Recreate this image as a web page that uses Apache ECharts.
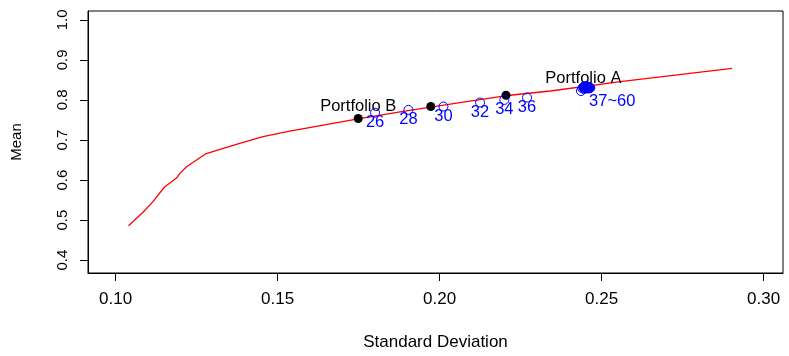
<!DOCTYPE html>
<html>
<head>
<meta charset="utf-8">
<script src="https://cdn.jsdelivr.net/npm/echarts@6/dist/echarts.min.js"></script>
<style>
html,body{margin:0;padding:0;background:#fff;}
#chart{width:789px;height:356px;}
</style>
</head>
<body>
<div id="chart"></div>
<script>
// Efficient frontier (red line)
var frontierX = [0.1040, 0.1084, 0.1115, 0.1151, 0.1172, 0.1188, 0.1200, 0.1219, 0.1280, 0.1383, 0.1455, 0.1538, 0.1744, 0.1878, 0.2063, 0.2202, 0.2342, 0.2558, 0.2903];
var frontierY = [0.4860, 0.5190, 0.5455, 0.5827, 0.5951, 0.6050, 0.6180, 0.6331, 0.6661, 0.6918, 0.7085, 0.7220, 0.7521, 0.7702, 0.7935, 0.8104, 0.8223, 0.8456, 0.8786];

// Black portfolios
var blackX = [0.1749, 0.1973, 0.2205, 0.2444];
var blackY = [0.7538, 0.7836, 0.8116, 0.8314];
var blackLabels = ["Portfolio B", "", "", "Portfolio A"];

// Numbered blue open circles
var numX = [0.1801, 0.1904, 0.2012, 0.2125, 0.2200, 0.2270];
var numY = [0.7682, 0.7752, 0.7836, 0.7935, 0.8000, 0.8059];
var numLabels = ["26", "28", "30", "32", "34", "36"];

// Cluster 37~60
var clusterX = [0.24365, 0.24405, 0.24436, 0.24451, 0.24467, 0.24482, 0.24498, 0.24513, 0.24529, 0.24544, 0.24560, 0.24575, 0.24591, 0.24606, 0.24621, 0.24637, 0.24652, 0.24498, 0.24529, 0.24560, 0.24591, 0.24467, 0.24621, 0.24529];
var clusterY = [0.8223, 0.8290, 0.8314, 0.8327, 0.8314, 0.8339, 0.8327, 0.8339, 0.8327, 0.8339, 0.8327, 0.8314, 0.8327, 0.8314, 0.8314, 0.8302, 0.8302, 0.8290, 0.8302, 0.8290, 0.8290, 0.8277, 0.8290, 0.8314];
var clusterLabel = "37~60";
var clusterLabelIndex = 23;

var xTicks = [0.10, 0.15, 0.20, 0.25, 0.30];
var yTicks = [0.4, 0.5, 0.6, 0.7, 0.8, 0.9, 1.0];

var FONT = '"Liberation Sans", Arial, Helvetica, sans-serif';

function zip(xs, ys) { return xs.map(function (x, i) { return [x, ys[i]]; }); }

var chart = echarts.init(document.getElementById('chart'), null, {renderer: 'canvas'});
chart.setOption({
  animation: false,
  backgroundColor: '#ffffff',
  textStyle: {fontFamily: FONT},
  grid: {left: 88, right: 6, top: 11, bottom: 81, show: true, borderColor: '#000', borderWidth: 1, backgroundColor: 'transparent'},
  xAxis: {
    type: 'value', min: 0.0915, max: 0.306,
    name: 'Standard Deviation', nameLocation: 'middle', nameGap: 61,
    nameTextStyle: {fontSize: 17, color: '#000', fontFamily: FONT},
    axisLine: {show: true, onZero: false, lineStyle: {color: '#000', width: 1}},
    axisTick: {show: true, length: 8, lineStyle: {color: '#000'}, customValues: xTicks},
    axisLabel: {fontSize: 17, color: '#000', margin: 18, fontFamily: FONT, customValues: xTicks,
      formatter: function (v) { return v.toFixed(2); }},
    splitLine: {show: false}
  },
  yAxis: {
    type: 'value', min: 0.368, max: 1.022,
    name: 'Mean', nameLocation: 'middle', nameGap: 64, nameRotate: 90,
    nameTextStyle: {fontSize: 15, color: '#000', fontFamily: FONT},
    axisLine: {show: true, onZero: false, lineStyle: {color: '#000', width: 1}},
    axisTick: {show: true, length: 8, lineStyle: {color: '#000'}, customValues: yTicks},
    axisLabel: {fontSize: 15, color: '#000', margin: 18, rotate: 90, fontFamily: FONT, customValues: yTicks,
      formatter: function (v) { return v.toFixed(1); }},
    splitLine: {show: false}
  },
  series: [
    {
      type: 'line', data: zip(frontierX, frontierY), showSymbol: false, symbol: 'none',
      lineStyle: {color: '#ff0000', width: 1.3}, z: 2, silent: true
    },
    {
      type: 'scatter', symbol: 'circle', symbolSize: 9, z: 3,
      itemStyle: {color: '#000', opacity: 1},
      data: zip(blackX, blackY).map(function (p, i) {
        return {value: p, label: {show: blackLabels[i] !== '', formatter: blackLabels[i], offset: [0, i === 3 ? -9 : -12]}};
      }),
      label: {position: 'inside', color: '#000', fontSize: 16.5, fontFamily: FONT}
    },
    {
      type: 'scatter', symbol: 'circle', symbolSize: 9, z: 4,
      itemStyle: {color: 'rgba(0,0,0,0)', borderColor: '#0000ff', borderWidth: 1, opacity: 1},
      data: zip(numX, numY).map(function (p, i) {
        return {value: p, label: {show: true, formatter: numLabels[i]}};
      }),
      label: {position: 'inside', offset: [0, 10], color: '#0000ff', fontSize: 16.5, fontFamily: FONT}
    },
    {
      type: 'scatter', symbol: 'circle', symbolSize: 9, z: 4,
      itemStyle: {color: 'rgba(0,0,0,0)', borderColor: '#0000ff', borderWidth: 1, opacity: 1},
      data: zip(clusterX, clusterY).map(function (p, i) {
        return {value: p, label: {show: i === clusterLabelIndex, formatter: clusterLabel}};
      }),
      label: {position: 'inside', offset: [26, 14], color: '#0000ff', fontSize: 16.5, fontFamily: FONT}
    }
  ]
});
</script>
</body>
</html>
